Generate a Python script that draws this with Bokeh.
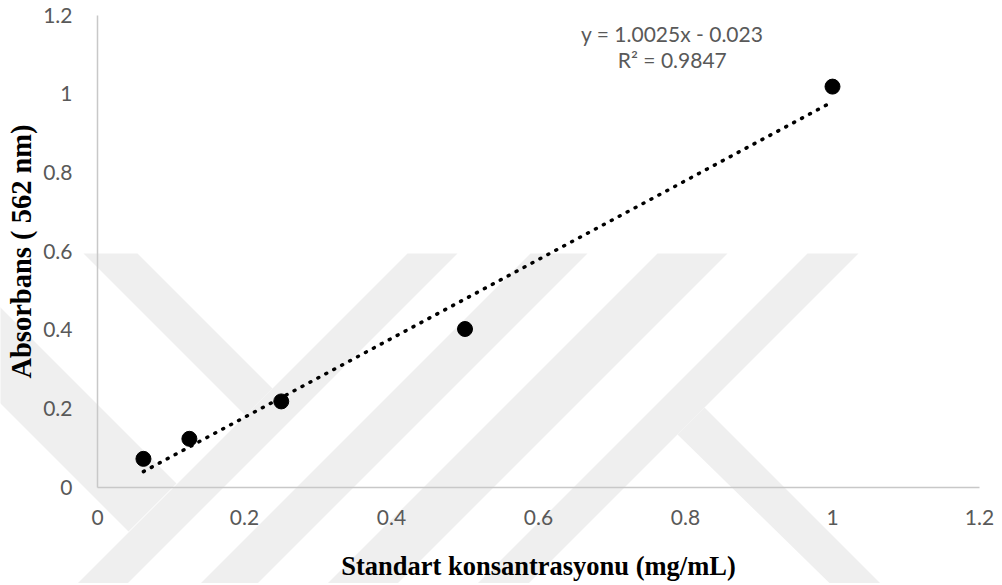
from bokeh.plotting import figure
from bokeh.models import Range1d, FixedTicker, Label
from bokeh.embed import file_html
from bokeh.resources import INLINE

# ---- data ----
conc = [0.0625, 0.125, 0.25, 0.5, 1.0]          # mg/mL
absorb = [0.072, 0.123, 0.218, 0.402, 1.018]    # A562
slope = 1.0025
intercept = -0.023
r_squared = 0.9847
x_ticks = [0, 0.2, 0.4, 0.6, 0.8, 1, 1.2]
x_tick_labels = ["0", "0.2", "0.4", "0.6", "0.8", "1", "1.2"]
y_ticks = [0, 0.2, 0.4, 0.6, 0.8, 1, 1.2]
y_tick_labels = ["0", "0.2", "0.4", "0.6", "0.8", "1", "1.2"]
x_title = "Standart konsantrasyonu (mg/mL)"
y_title = "Absorbans ( 562 nm)"

TICK_FONT = "Lato"
GREY_TXT = "#595959"

# ---- layout geometry (page pixels) ----
W, H = 1000, 583
X0_PX, X_PER_UNIT = 97.0, 735.0     # canvas x of value 0, pixels per unit
Y0_PX, Y_PER_UNIT = 486.7, 393.5    # canvas y of value 0, pixels per unit
x_lo, x_hi = -X0_PX / X_PER_UNIT, (W - X0_PX) / X_PER_UNIT
y_lo, y_hi = -(H - Y0_PX) / Y_PER_UNIT, Y0_PX / Y_PER_UNIT

p = figure(width=W, height=H, x_range=Range1d(x_lo, x_hi), y_range=Range1d(y_lo, y_hi),
           output_backend="svg", toolbar_location=None, min_border=0,
           min_border_left=0, min_border_right=0, min_border_top=0, min_border_bottom=0)
p.outline_line_color = None
p.grid.visible = False
p.background_fill_color = "white"
p.border_fill_color = "white"

# ---- faint background watermark (decoration, page pixels -> plot units) ----
def _px(xs, ys):
    return ([(x - X0_PX) / X_PER_UNIT for x in xs],
            [(Y0_PX - y) / Y_PER_UNIT for y in ys])

wm_shapes = [
    ([83, 137, 272, 245], [253, 253, 388, 415]),
    ([407, 457, 110, 60], [253, 253, 600, 600]),
    ([-20, 176, 128, -20], [287, 483, 531, 383]),
    ([530, 587, 240, 183], [253, 253, 600, 600]),
    ([657, 727, 380, 310], [253, 253, 600, 600]),
    ([807, 858, 511, 460], [253, 253, 600, 600]),
    ([704, 905, 855, 677], [407, 608, 608, 434]),
]
wm_xs, wm_ys = [], []
for sx, sy in wm_shapes:
    dx, dy = _px(sx, sy)
    wm_xs.append(dx)
    wm_ys.append(dy)
p.patches(wm_xs, wm_ys, fill_color="#efefef", line_color=None, level="underlay")

# ---- trendline (dotted) ----
tx = [conc[0], conc[-1]]
ty = [slope * v + intercept for v in tx]
p.line(tx, ty, line_color="black", line_width=3.5, line_dash="1 8", line_cap="round")

# ---- data points ----
p.scatter(conc, absorb, size=15, color="black")

# ---- axes (fixed at zero, bounded to 0..1.2) ----
for ax, ticks, labels in ((p.xaxis, x_ticks, x_tick_labels), (p.yaxis, y_ticks, y_tick_labels)):
    ax.fixed_location = 0
    ax.bounds = (0, 1.2)
    ax.ticker = FixedTicker(ticks=ticks)
    ax.major_label_overrides = {t: l for t, l in zip(ticks, labels)}
    ax.axis_line_color = "#c8c8c8"
    ax.axis_line_width = 1.5
    ax.major_tick_line_color = None
    ax.minor_tick_line_color = None
    ax.major_tick_out = 0
    ax.major_tick_in = 0
    ax.minor_tick_out = 0
    ax.minor_tick_in = 0
    ax.major_label_text_font = TICK_FONT
    ax.major_label_text_font_size = "21px"
    ax.major_label_text_color = GREY_TXT
    ax.axis_label_text_font = "Liberation Serif"
    ax.axis_label_text_font_style = "bold"
    ax.axis_label_text_color = "black"

p.xaxis.axis_label = x_title
p.yaxis.axis_label = y_title
p.xaxis.axis_label_text_font_size = "26.5px"
p.yaxis.axis_label_text_font_size = "28.5px"
p.xaxis.major_label_standoff = 23
p.yaxis.major_label_standoff = 25
p.xaxis.axis_label_standoff = 22
p.yaxis.axis_label_standoff = 3

# ---- equation text ----
p.add_layout(Label(x=0.782, y=1.154, text=f"y = {slope}x - {abs(intercept)}",
                   text_font=TICK_FONT, text_font_size="21px", text_color=GREY_TXT,
                   text_align="center", text_baseline="middle"))
p.add_layout(Label(x=0.782, y=1.086, text=f"R\u00b2 = {r_squared}",
                   text_font=TICK_FONT, text_font_size="21px", text_color=GREY_TXT,
                   text_align="center", text_baseline="middle"))

open("out.html", "w").write(file_html(p, INLINE))
